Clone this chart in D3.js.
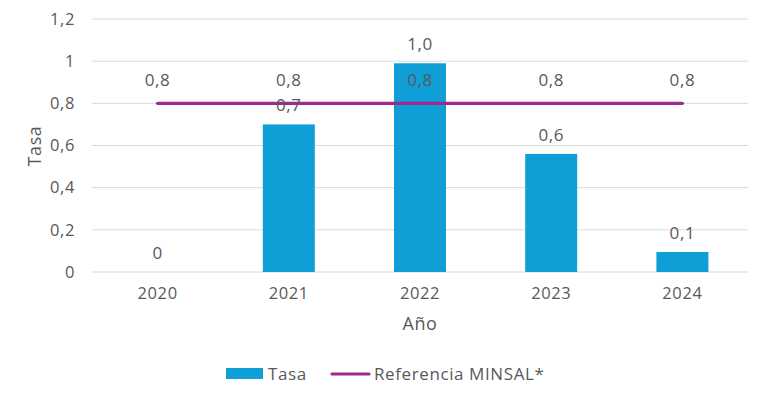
<!DOCTYPE html>
<html><head><meta charset="utf-8">
<script src="https://cdn.jsdelivr.net/npm/d3@7"></script>
<style>body{margin:0;background:#fff}text{font-family:"Open Sans",sans-serif;fill:#595959;letter-spacing:0.6px}</style>
</head><body><svg id="c" width="768" height="402"></svg>
<script>
const years = ["2020","2021","2022","2023","2024"];
const tasa = [0, 0.7, 0.99, 0.56, 0.095];
const tasaLabels = ["0","0,7","1,0","0,6","0,1"];
const referencia = [0.8, 0.8, 0.8, 0.8, 0.8];
const refLabels = ["0,8","0,8","0,8","0,8","0,8"];
const yTicks = [0, 0.2, 0.4, 0.6, 0.8, 1, 1.2];

const FONT = "'Open Sans',sans-serif";
const svg = d3.select("#c");
const m = {l:92, r:20};
const W = 768;
const x = d3.scaleBand().domain(years).range([m.l, W-m.r]).paddingInner(0.6).paddingOuter(0.3);
const y = d3.scaleLinear().domain([0,1.2]).range([272,19]);
const loc = d3.formatLocale({decimal:",", thousands:".", grouping:[3], currency:["$",""]});
const fmt = v => loc.format("~g")(+v.toFixed(1));

// grid
svg.append("g").selectAll("line").data(yTicks).join("line")
  .attr("x1", m.l).attr("x2", W-m.r).attr("y1", d=>y(d)).attr("y2", d=>y(d))
  .attr("stroke", "#d9d9d9").attr("stroke-width", 1);

// y axis
const ya = svg.append("g").attr("transform", `translate(${m.l},0)`)
  .call(d3.axisLeft(y).tickValues(yTicks).tickFormat(fmt).tickSize(0).tickPadding(17));
ya.select(".domain").remove();
ya.selectAll("text").style("font-size","16.5px").attr("fill","#595959").style("font-family",FONT);

// x axis
const xa = svg.append("g").attr("transform", `translate(0,272)`)
  .call(d3.axisBottom(x).tickSize(0).tickPadding(15));
xa.select(".domain").remove();
xa.selectAll("text").style("font-size","16.5px").attr("fill","#595959").style("font-family",FONT);

// bars
const bw = 52;
svg.append("g").selectAll("rect").data(years).join("rect")
  .attr("x", d=>x(d)+x.bandwidth()/2-bw/2).attr("width", bw)
  .attr("y", (d,i)=>y(tasa[i])).attr("height", (d,i)=>y(0)-y(tasa[i]))
  .attr("fill", "#0f9ed5");

// line
const cx = d => x(d)+x.bandwidth()/2;
svg.append("path").datum(years)
  .attr("d", d3.line().x(cx).y((d,i)=>y(referencia[i])))
  .attr("fill","none").attr("stroke","#9c2a92").attr("stroke-width",3.2).attr("stroke-linecap","round");

// labels
svg.append("g").selectAll("text").data(years).join("text")
  .attr("x", cx).attr("y", (d,i)=>y(tasa[i])-13)
  .attr("text-anchor","middle").style("font-size","17px").text((d,i)=>tasaLabels[i]);
svg.append("g").selectAll("text").data(years).join("text")
  .attr("x", cx).attr("y", (d,i)=>y(referencia[i])-17)
  .attr("text-anchor","middle").style("font-size","17px").text((d,i)=>refLabels[i]);

// axis titles
svg.append("text").attr("x", 420).attr("y", 330).attr("text-anchor","middle").style("font-size","18px").text("Año");
svg.append("text").attr("transform","translate(41,146) rotate(-90)").attr("text-anchor","middle").style("font-size","18px").text("Tasa");

// legend
const lg = svg.append("g");
lg.append("rect").attr("x",226).attr("y",368).attr("width",37).attr("height",11).attr("fill","#0f9ed5");
lg.append("text").attr("x",268).attr("y",380).style("font-size","17px").text("Tasa");
lg.append("line").attr("x1",332).attr("x2",369).attr("y1",374).attr("y2",374).attr("stroke","#9c2a92").attr("stroke-width",3.2).attr("stroke-linecap","round");
lg.append("text").attr("x",374).attr("y",380).style("font-size","17px").text("Referencia MINSAL*");
</script></body></html>
